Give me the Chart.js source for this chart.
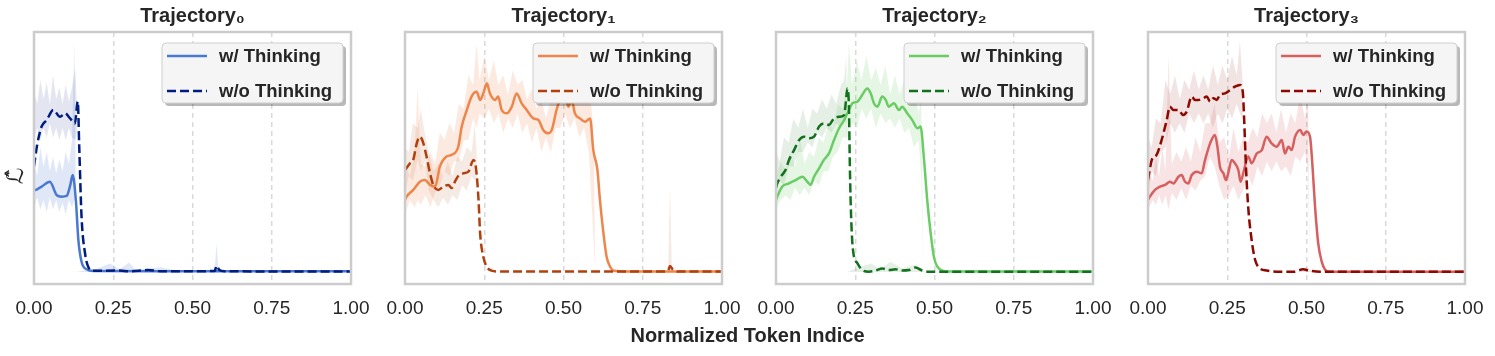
<!DOCTYPE html>
<html>
<head>
<meta charset="utf-8">
<script src="https://cdn.jsdelivr.net/npm/chart.js@4.4.1/dist/chart.umd.min.js"></script>
<style>
  body { margin: 0; background: #fff; }
  #wrap { position: relative; width: 1495px; height: 356px; overflow: hidden; font-family: "Liberation Sans", Arial, sans-serif; }
  .panel { position: absolute; top: 0; width: 367px; height: 356px; }
  #xlabel { position: absolute; left: 0; width: 1495px; top: 324px; text-align: center; font-weight: bold; font-size: 20px; color: #262626; }
  #ylabel { position: absolute; left: 1px; top: 163px; width: 28px; text-align: center; font-size: 23px; color: #262626; transform: rotate(-90deg); font-family: "DejaVu Sans", sans-serif; }
</style>
</head>
<body>
<div id="wrap">
  <div class="panel" style="left:9px"><canvas id="c0" width="367" height="356"></canvas></div>
  <div class="panel" style="left:380px"><canvas id="c1" width="367" height="356"></canvas></div>
  <div class="panel" style="left:751px"><canvas id="c2" width="367" height="356"></canvas></div>
  <div class="panel" style="left:1123px"><canvas id="c3" width="367" height="356"></canvas></div>
  <div id="ylabel">ℒ̂</div>
  <div id="xlabel">Normalized Token Indice</div>
</div>
<script>
// Smoothed curves, [x, value]
const t0With = [[0,0.34],[0.006,0.342],[0.024,0.356],[0.05,0.376],[0.072,0.32],[0.087,0.314],[0.103,0.317],[0.114,0.36],[0.122,0.404],[0.132,0.30],[0.14,0.133],[0.15,0.043],[0.166,0.011],[0.187,0.004],[0.4,0.003],[1,0.003]];
const t0Wo = [[0,0.44],[0.01,0.53],[0.024,0.606],[0.04,0.633],[0.061,0.675],[0.082,0.647],[0.098,0.661],[0.114,0.64],[0.129,0.619],[0.138,0.71],[0.143,0.508],[0.15,0.23],[0.161,0.078],[0.171,0.022],[0.187,0.005],[0.27,0.006],[0.3,0.003],[0.36,0.008],[0.4,0.003],[0.57,0.004],[0.576,0.026],[0.585,0.008],[0.6,0.003],[1,0.002]];

const t1With = [[0,0.30],[0.005,0.314],[0.026,0.342],[0.047,0.376],[0.063,0.383],[0.079,0.363],[0.095,0.356],[0.11,0.439],[0.131,0.481],[0.147,0.488],[0.168,0.522],[0.179,0.606],[0.195,0.675],[0.21,0.731],[0.226,0.751],[0.237,0.717],[0.247,0.744],[0.258,0.786],[0.268,0.744],[0.284,0.717],[0.294,0.731],[0.305,0.675],[0.321,0.661],[0.337,0.689],[0.352,0.744],[0.368,0.703],[0.384,0.675],[0.405,0.64],[0.421,0.633],[0.436,0.592],[0.452,0.578],[0.463,0.592],[0.478,0.675],[0.489,0.717],[0.505,0.731],[0.515,0.689],[0.526,0.717],[0.536,0.661],[0.552,0.64],[0.568,0.626],[0.584,0.64],[0.594,0.508],[0.607,0.425],[0.615,0.3],[0.626,0.161],[0.636,0.064],[0.647,0.022],[0.657,0.006],[0.7,0.002],[1,0.002]];
const t1Wo = [[0,0.425],[0.016,0.453],[0.026,0.467],[0.037,0.536],[0.047,0.564],[0.058,0.536],[0.068,0.481],[0.079,0.411],[0.089,0.363],[0.105,0.342],[0.121,0.356],[0.137,0.363],[0.147,0.35],[0.158,0.378],[0.168,0.4],[0.184,0.411],[0.2,0.418],[0.216,0.467],[0.224,0.432],[0.232,0.3],[0.237,0.161],[0.247,0.064],[0.258,0.022],[0.273,0.006],[0.3,0.002],[0.82,0.002],[0.83,0.006],[0.836,0.025],[0.845,0.01],[0.86,0.002],[1,0.002]];

const t2With = [[0,0.3],[0.004,0.314],[0.02,0.356],[0.041,0.369],[0.062,0.383],[0.083,0.397],[0.099,0.376],[0.109,0.363],[0.12,0.397],[0.136,0.432],[0.151,0.467],[0.167,0.494],[0.183,0.55],[0.199,0.599],[0.215,0.633],[0.23,0.675],[0.241,0.703],[0.257,0.71],[0.272,0.738],[0.288,0.765],[0.299,0.744],[0.309,0.703],[0.32,0.689],[0.335,0.731],[0.346,0.717],[0.356,0.689],[0.372,0.703],[0.388,0.675],[0.398,0.689],[0.414,0.661],[0.43,0.633],[0.446,0.599],[0.456,0.606],[0.467,0.467],[0.477,0.3],[0.488,0.161],[0.498,0.063],[0.509,0.022],[0.525,0.006],[0.546,0.002],[1,0.002]];
const t2Wo = [[0,0.35],[0.004,0.369],[0.015,0.397],[0.03,0.425],[0.041,0.467],[0.057,0.508],[0.073,0.55],[0.088,0.564],[0.104,0.557],[0.12,0.564],[0.136,0.606],[0.151,0.619],[0.167,0.613],[0.183,0.64],[0.199,0.647],[0.215,0.654],[0.22,0.703],[0.225,0.765],[0.23,0.689],[0.233,0.439],[0.237,0.229],[0.243,0.09],[0.257,0.036],[0.272,0.008],[0.293,0.001],[0.314,0.006],[0.335,0.015],[0.356,0.008],[0.377,0.011],[0.398,0.006],[0.419,0.008],[0.44,0.019],[0.461,0.006],[0.483,0.001],[1,0.001]];

const t3With = [[0,0.3],[0.006,0.314],[0.022,0.342],[0.038,0.356],[0.054,0.363],[0.069,0.376],[0.08,0.369],[0.096,0.397],[0.106,0.404],[0.117,0.376],[0.127,0.369],[0.138,0.404],[0.154,0.418],[0.169,0.411],[0.18,0.467],[0.196,0.536],[0.211,0.571],[0.219,0.522],[0.227,0.439],[0.238,0.411],[0.246,0.383],[0.253,0.411],[0.264,0.467],[0.274,0.453],[0.285,0.425],[0.292,0.376],[0.303,0.425],[0.316,0.481],[0.327,0.453],[0.343,0.494],[0.359,0.508],[0.374,0.564],[0.39,0.536],[0.406,0.522],[0.422,0.55],[0.432,0.494],[0.443,0.522],[0.453,0.508],[0.464,0.564],[0.48,0.592],[0.49,0.571],[0.5,0.585],[0.511,0.564],[0.519,0.439],[0.527,0.272],[0.537,0.119],[0.548,0.043],[0.558,0.011],[0.574,0.001],[1,0.001]];
const t3Wo = [[0,0.383],[0.012,0.467],[0.027,0.488],[0.043,0.55],[0.059,0.633],[0.069,0.689],[0.08,0.675],[0.096,0.675],[0.111,0.654],[0.122,0.668],[0.138,0.731],[0.148,0.717],[0.159,0.717],[0.175,0.724],[0.185,0.731],[0.196,0.71],[0.206,0.724],[0.217,0.717],[0.227,0.738],[0.243,0.744],[0.259,0.758],[0.274,0.772],[0.29,0.779],[0.299,0.751],[0.303,0.647],[0.309,0.439],[0.316,0.272],[0.327,0.133],[0.338,0.05],[0.353,0.015],[0.374,0.006],[0.406,0.001],[0.459,0.001],[0.49,0.011],[0.506,0.006],[0.543,0.001],[1,0.001]];

// Raw (unsmoothed) spread, [x, low, high] envelopes
const t0WithBand = [[0,0.27,0.46],[0.01,0.31,0.4],[0.02,0.26,0.52],[0.03,0.3,0.44],[0.04,0.25,0.5],[0.05,0.31,0.42],[0.06,0.26,0.48],[0.07,0.3,0.41],[0.08,0.25,0.47],[0.09,0.29,0.42],[0.1,0.24,0.5],[0.11,0.3,0.45],[0.12,0.27,0.55],[0.127,0.3,0.96],[0.131,0.3,0.5],[0.1325,0,0],[0.2,0,0.015],[0.24,0,0.035],[0.27,0,0.01],[0.3,0,0.04],[0.32,0,0.01],[0.4,0,0.02],[0.45,0,0.005],[0.57,0,0.008],[0.576,0,0.12],[0.582,0,0.006],[1,0,0.004]];
const t0WoBand = [[0,0.55,0.76],[0.01,0.6,0.7],[0.02,0.55,0.8],[0.03,0.6,0.72],[0.04,0.56,0.79],[0.05,0.62,0.7],[0.06,0.56,0.82],[0.07,0.6,0.72],[0.08,0.55,0.77],[0.09,0.6,0.7],[0.1,0.55,0.78],[0.11,0.6,0.71],[0.12,0.56,0.77],[0.13,0.55,0.85],[0.135,0.58,0.7],[0.136,0,0],[1,0,0]];

const t1WithBand = [[0,0.24,0.45],[0.015,0.3,0.4],[0.03,0.27,0.5],[0.04,0.3,0.77],[0.05,0.28,0.45],[0.065,0.32,0.44],[0.08,0.27,0.5],[0.095,0.33,0.45],[0.11,0.36,0.58],[0.125,0.42,0.55],[0.14,0.4,0.62],[0.155,0.46,0.58],[0.17,0.46,0.7],[0.185,0.55,0.68],[0.2,0.55,0.82],[0.215,0.64,0.78],[0.226,0.6,0.95],[0.235,0.66,0.8],[0.25,0.64,0.9],[0.265,0.68,0.8],[0.28,0.62,0.88],[0.295,0.66,0.78],[0.31,0.58,0.82],[0.325,0.64,0.74],[0.34,0.6,0.84],[0.355,0.66,0.78],[0.37,0.58,0.8],[0.385,0.62,0.72],[0.4,0.54,0.76],[0.415,0.6,0.68],[0.43,0.5,0.72],[0.445,0.56,0.64],[0.46,0.5,0.72],[0.475,0.6,0.72],[0.49,0.6,0.82],[0.505,0.66,0.78],[0.52,0.6,0.86],[0.535,0.64,0.74],[0.55,0.56,0.8],[0.565,0.6,0.7],[0.58,0.5,0.78],[0.59,0.25,0.66],[0.596,0.1,0.5],[0.6,0,0],[1,0,0]];
const t1WoBand = [[0,0.33,0.52],[0.012,0.4,0.5],[0.025,0.38,0.62],[0.04,0.47,0.6],[0.05,0.42,0.68],[0.062,0.46,0.58],[0.075,0.34,0.5],[0.09,0.3,0.42],[0.105,0.27,0.45],[0.12,0.31,0.4],[0.135,0.28,0.46],[0.15,0.32,0.4],[0.165,0.3,0.48],[0.18,0.36,0.46],[0.195,0.34,0.52],[0.21,0.4,0.5],[0.22,0.38,0.62],[0.226,0.4,0.5],[0.228,0,0],[0.83,0,0],[0.836,0,0.356],[0.842,0,0],[1,0,0]];

const t2WithBand = [[0,0.26,0.4],[0.015,0.3,0.46],[0.03,0.32,0.42],[0.045,0.3,0.5],[0.06,0.35,0.44],[0.075,0.32,0.56],[0.09,0.35,0.45],[0.105,0.32,0.5],[0.12,0.38,0.48],[0.135,0.36,0.56],[0.15,0.42,0.54],[0.165,0.42,0.62],[0.18,0.48,0.6],[0.195,0.5,0.7],[0.21,0.56,0.68],[0.225,0.56,0.8],[0.23,0.6,0.95],[0.24,0.62,0.78],[0.255,0.6,0.88],[0.27,0.68,0.8],[0.285,0.64,0.9],[0.3,0.68,0.8],[0.315,0.6,0.85],[0.33,0.66,0.78],[0.345,0.62,0.86],[0.36,0.64,0.74],[0.375,0.6,0.82],[0.39,0.64,0.74],[0.405,0.58,0.8],[0.42,0.6,0.7],[0.435,0.52,0.76],[0.45,0.55,0.66],[0.458,0.4,0.72],[0.465,0,0],[1,0,0]];
const t2WoBand = [[0,0.34,0.5],[0.012,0.38,0.46],[0.025,0.36,0.56],[0.04,0.44,0.54],[0.055,0.44,0.64],[0.07,0.5,0.6],[0.085,0.5,0.68],[0.1,0.54,0.6],[0.115,0.52,0.68],[0.13,0.58,0.66],[0.145,0.56,0.72],[0.16,0.6,0.68],[0.175,0.58,0.74],[0.19,0.62,0.7],[0.205,0.6,0.78],[0.215,0.64,0.8],[0.222,0.62,0.9],[0.225,0,0],[0.26,0,0.02],[0.3,0,0.035],[0.33,0,0.01],[0.36,0,0.043],[0.4,0,0.015],[0.44,0,0.03],[0.47,0,0],[1,0,0]];

const t3WithBand = [[0,0.26,0.42],[0.015,0.3,0.38],[0.025,0.28,0.48],[0.035,0.32,0.4],[0.045,0.28,0.52],[0.055,0.32,0.42],[0.065,0.26,0.9],[0.075,0.33,0.45],[0.09,0.3,0.5],[0.105,0.35,0.46],[0.12,0.3,0.52],[0.135,0.36,0.46],[0.15,0.34,0.56],[0.165,0.38,0.5],[0.18,0.4,0.62],[0.195,0.48,0.62],[0.21,0.44,0.7],[0.225,0.36,0.54],[0.24,0.3,0.56],[0.255,0.32,0.48],[0.27,0.36,0.6],[0.285,0.3,0.5],[0.3,0.34,0.56],[0.315,0.4,0.54],[0.33,0.36,0.6],[0.345,0.44,0.56],[0.36,0.4,0.66],[0.375,0.46,0.62],[0.39,0.42,0.66],[0.405,0.46,0.58],[0.42,0.42,0.68],[0.435,0.44,0.58],[0.45,0.4,0.66],[0.465,0.48,0.62],[0.48,0.46,0.74],[0.495,0.5,0.64],[0.505,0.42,0.72],[0.51,0,0],[1,0,0]];
const t3WoBand = [[0,0.32,0.56],[0.012,0.42,0.52],[0.025,0.4,0.64],[0.04,0.5,0.62],[0.055,0.52,0.8],[0.07,0.62,0.74],[0.085,0.58,0.82],[0.1,0.62,0.72],[0.115,0.58,0.8],[0.13,0.66,0.76],[0.145,0.62,0.84],[0.16,0.66,0.76],[0.175,0.62,0.82],[0.19,0.66,0.76],[0.205,0.6,0.86],[0.22,0.66,0.78],[0.235,0.62,0.86],[0.25,0.68,0.8],[0.265,0.64,0.9],[0.28,0.7,0.82],[0.29,0.66,0.96],[0.298,0.64,0.8],[0.3,0,0],[0.48,0,0],[0.5,0,0.02],[0.52,0,0],[1,0,0]];

const titles = ['Trajectory₀', 'Trajectory₁', 'Trajectory₂', 'Trajectory₃'];
const seriesLabels = ['w/ Thinking', 'w/o Thinking'];
const withColors = ['#4878d0', '#ee854a', '#6acc64', '#d65f5f'];
const woColors = ['#001c7f', '#b1400d', '#12711c', '#8c0800'];
const xTicks = [0, 0.25, 0.5, 0.75, 1];

const withLines = [t0With, t1With, t2With, t3With];
const woLines = [t0Wo, t1Wo, t2Wo, t3Wo];
const withBands = [t0WithBand, t1WithBand, t2WithBand, t3WithBand];
const woBands = [t0WoBand, t1WoBand, t2WoBand, t3WoBand];

const FONT = '"Liberation Sans", Arial, sans-serif';
const PAD_X = 25;      // canvas edge -> plot frame
const AXIS_H = 36;     // height kept for the x tick labels

function alpha(hex, a) {
    const n = parseInt(hex.slice(1), 16);
    return `rgba(${(n >> 16) & 255},${(n >> 8) & 255},${n & 255},${a})`;
}

const toPts = arr => arr.map(p => ({ x: p[0], y: p[1] }));

function bandSets(band, color, a) {
    return [
        { isBand: true, data: band.map(p => ({ x: p[0], y: p[2] })), fill: '+1', backgroundColor: alpha(color, a), borderWidth: 0, pointRadius: 0, order: 3 },
        { isBand: true, data: band.map(p => ({ x: p[0], y: p[1] })), fill: false, borderWidth: 0, pointRadius: 0, order: 3 }
    ];
}

// frame around the plot area + boxed legend with a drop shadow
const framePlugin = {
    id: 'frameLegend',
    afterDatasetsDraw(chart) {
        const { ctx, chartArea: a } = chart;
        ctx.save();
        ctx.strokeStyle = '#cccccc';
        ctx.lineWidth = 2.5;
        ctx.strokeRect(a.left, a.top, a.right - a.left, a.bottom - a.top);

        const w = 181, h = 60;
        const x = a.right - 8 - w, y = a.top + 11;
        ctx.fillStyle = 'rgba(0,0,0,0.28)';
        ctx.beginPath();
        ctx.roundRect(x + 3, y + 3, w, h, 4);
        ctx.fill();
        ctx.fillStyle = '#f5f5f5';
        ctx.strokeStyle = '#cfcfcf';
        ctx.lineWidth = 1;
        ctx.beginPath();
        ctx.roundRect(x, y, w, h, 4);
        ctx.fill();
        ctx.stroke();

        const items = chart.data.datasets.filter(ds => !ds.isBand);
        items.forEach((ds, i) => {
            const ly = y + 13 + i * 35;
            ctx.strokeStyle = ds.borderColor;
            ctx.lineWidth = 2.5;
            ctx.setLineDash(ds.borderDash || []);
            ctx.beginPath();
            ctx.moveTo(x + 5, ly);
            ctx.lineTo(x + 45, ly);
            ctx.stroke();
            ctx.setLineDash([]);
            ctx.fillStyle = '#262626';
            ctx.font = 'bold 18.5px ' + FONT;
            ctx.textBaseline = 'middle';
            ctx.fillText(ds.label, x + 57, ly + 1);
        });
        ctx.restore();
    }
};

for (let i = 0; i < 4; i++) {
    const lineStyle = { borderWidth: 2.5, pointRadius: 0, fill: false, cubicInterpolationMode: 'monotone' };
    const datasets = [
        { ...lineStyle, label: seriesLabels[0], data: toPts(withLines[i]), borderColor: withColors[i], order: 1 },
        { ...lineStyle, label: seriesLabels[1], data: toPts(woLines[i]), borderColor: woColors[i], borderDash: [9, 4], order: 0 },
        ...bandSets(withBands[i], withColors[i], 0.17),
        ...bandSets(woBands[i], woColors[i], 0.11)
    ];

    new Chart(document.getElementById('c' + i), {
        type: 'line',
        data: { datasets: datasets },
        options: {
            responsive: false,
            animation: false,
            layout: { padding: { left: PAD_X, right: PAD_X, top: 0, bottom: 356 - 284 - AXIS_H } },
            plugins: {
                legend: { display: false },
                tooltip: { enabled: false },
                title: {
                    display: true,
                    text: titles[i],
                    color: '#262626',
                    font: { family: FONT, size: 20, weight: 'bold' },
                    padding: { top: 4, bottom: 4 }
                }
            },
            scales: {
                x: {
                    type: 'linear',
                    min: 0,
                    max: 1,
                    afterBuildTicks: scale => { scale.ticks = xTicks.map(v => ({ value: v })); },
                    afterFit: scale => {
                        scale.height = AXIS_H;
                        scale.paddingLeft = 0;
                        scale.paddingRight = 0;
                    },
                    ticks: {
                        callback: v => v.toFixed(2),
                        color: '#262626',
                        font: { family: FONT, size: 19 },
                        padding: 13,
                        maxRotation: 0
                    },
                    grid: {
                        drawTicks: false,
                        lineWidth: 1.5,
                        color: c => (c.tick && (c.tick.value === 0 || c.tick.value === 1)) ? 'rgba(0,0,0,0)' : '#d9d9d9'
                    },
                    border: { display: false, dash: [5, 4] }
                },
                y: {
                    display: false,
                    min: -0.05,
                    max: 1.0
                }
            }
        },
        plugins: [framePlugin]
    });
}
</script>
</body>
</html>
